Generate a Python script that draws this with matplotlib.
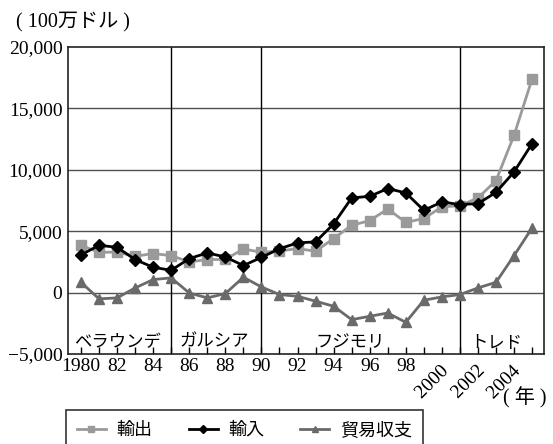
import matplotlib.pyplot as plt
import matplotlib.transforms as mtransforms
from matplotlib.font_manager import FontProperties
from matplotlib.lines import Line2D
from matplotlib.patches import PathPatch
from matplotlib.textpath import TextPath
from matplotlib.ticker import FixedLocator, FuncFormatter

# ペルーの貿易 (100万ドル)
years = list(range(1980, 2006))
exports = [3850, 3280, 3300, 2960, 3180, 3010, 2500, 2690, 2700, 3560, 3280,
           3390, 3580, 3370, 4400, 5480, 5860, 6810, 5720, 6030, 6980, 7080,
           7710, 9120, 12810, 17400]
imports = [3070, 3850, 3690, 2690, 2060, 1820, 2770, 3230, 2900, 2200, 2870,
           3570, 4050, 4130, 5590, 7710, 7840, 8470, 8120, 6700, 7380, 7170,
           7250, 8160, 9830, 12130]
balance = [840, -510, -430, 380, 1060, 1200, -30, -430, -80, 1250, 460,
           -160, -300, -700, -1110, -2200, -1930, -1660, -2420, -620, -350, -160,
           380, 840, 3010, 5270]

# 大統領の任期
presidents = ['ベラウンデ', 'ガルシア', 'フジモリ', 'トレド']
president_x = [1982.0, 1987.4, 1994.9, 2003.0]
term_starts = [1985, 1990, 2001]

tick_years = list(range(1980, 2006, 2))
tick_labels = ['1980', '82', '84', '86', '88', '90', '92', '94', '96', '98',
               '2000', '2002', '2004']
n_rotated = 3  # 2000年以降は斜めに表示

serif = ['Liberation Serif', 'Noto Sans CJK JP']
jp = 'Noto Sans CJK JP'
DPI = 100

fig = plt.figure(figsize=(5.53, 4.44), dpi=DPI)
ax = fig.add_axes([68/553, 90/444, 476/553, 307/444])

x = [y - 1980 for y in years]
ax.plot(x, exports, color='#9a9a9a', lw=2, marker='s', ms=7, zorder=3, label='輸出')
ax.plot(x, imports, color='black', lw=2, marker='D', ms=6, zorder=4, label='輸入')
ax.plot(x, balance, color='#6a6a6a', lw=2, marker='^', ms=7, zorder=3, label='貿易収支')

for v in [5000, 10000, 15000, 0]:
    ax.axhline(v, color='#505050', lw=1, zorder=1)
for s in term_starts:
    ax.axvline(s - 1980, color='black', lw=1, zorder=1)

for name, px in zip(presidents, president_x):
    ax.text(px - 1980, -4000, name, family=jp, fontsize=12.5, ha='center', va='center')

ax.set_xlim(-0.72, 25.66)
ax.set_ylim(-5000, 20000)
ax.set_yticks([-5000, 0, 5000, 10000, 15000, 20000])
ax.yaxis.set_major_formatter(FuncFormatter(lambda v, p: f'{v:,.0f}'.replace('-', '\u2212')))
ax.tick_params(axis='y', length=0, labelsize=14, pad=4)
for t in ax.get_yticklabels():
    t.set_family('Liberation Serif')

# 目盛りは毎年、ラベルは2年おき
tick_x = [y - 1980 for y in tick_years]
ax.xaxis.set_minor_locator(FixedLocator(list(range(0, 26))))
ax.set_xticks(tick_x, tick_labels[:-n_rotated] + [''] * n_rotated)
ax.tick_params(axis='x', which='both', direction='in', length=5, width=1, labelsize=14, pad=3)
for t in ax.get_xticklabels():
    t.set_family('Liberation Serif')

# 斜めの年ラベルは文字の輪郭パスで描く
fp = FontProperties(family='Liberation Serif')
size_px = 14 * DPI / 72
for tx, lab in zip(tick_x[-n_rotated:], tick_labels[-n_rotated:]):
    tp = TextPath((0, 0), lab, size=size_px, prop=fp)
    ext = tp.get_extents()
    tr = (mtransforms.Affine2D().translate(-ext.x1, -(ext.y0 + ext.y1) / 2).rotate_deg(45)
          + mtransforms.ScaledTranslation(tx + 0.1, -0.045, ax.get_xaxis_transform()))
    ax.add_artist(PathPatch(tp, transform=tr, facecolor='black', edgecolor='none',
                            clip_on=False))

for sp in ax.spines.values():
    sp.set_linewidth(1.2)
    sp.set_color('#222222')

fig.text(16/553, 1 - 22/444, '( 100万ドル )', family=serif, fontsize=14.5, va='center')
fig.text(503/553, 1 - 398/444, '( 年 )', family=serif, fontsize=14.5, va='center')

handles = [Line2D([], [], color='#9a9a9a', lw=2, marker='s', ms=5),
           Line2D([], [], color='black', lw=2, marker='D', ms=4.5),
           Line2D([], [], color='#6a6a6a', lw=2, marker='^', ms=5)]
leg = fig.legend(handles, ['輸出', '輸入', '貿易収支'], ncol=3,
                 loc='upper left', bbox_to_anchor=(66/553, 1 - 410/444),
                 prop={'family': jp, 'size': 13}, frameon=True, fancybox=False,
                 edgecolor='black', handlelength=1.6, handletextpad=0.6,
                 columnspacing=2.0, borderpad=0.6, borderaxespad=0)
leg.get_frame().set_linewidth(1.2)

fig.savefig('out.png', dpi=DPI)
